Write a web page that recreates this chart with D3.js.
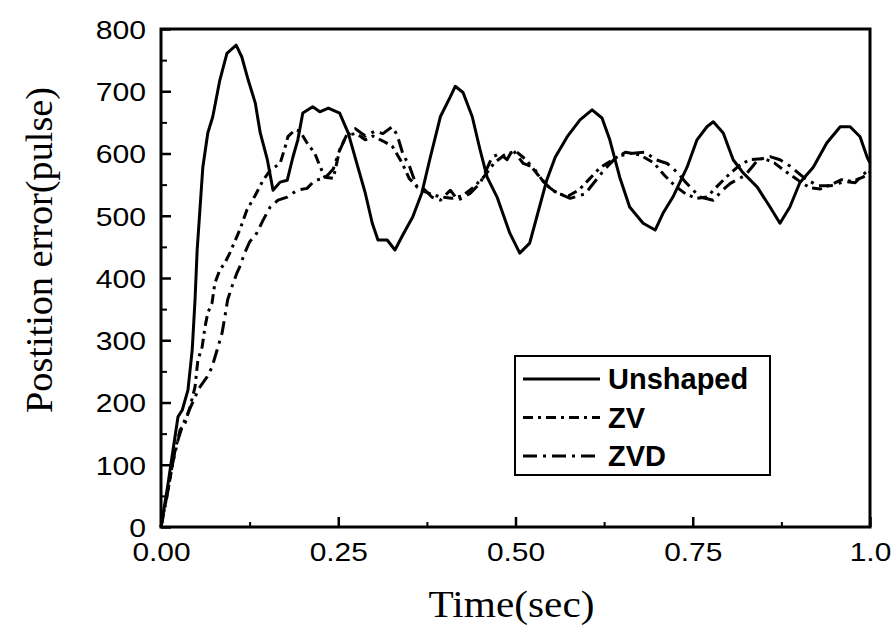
<!DOCTYPE html>
<html>
<head>
<meta charset="utf-8">
<script src="https://cdn.jsdelivr.net/npm/d3@7"></script>
<style>
  body { margin: 0; background: #fff; }
  .tick text { font-family: "Liberation Sans", Arial, sans-serif; font-size: 26px; fill: #000; }
</style>
</head>
<body>
<div id="chart"></div>
<script>
// Data: [time (sec), position error (pulse)]
var unshaped = [[0,0],[0.01,70],[0.017,124],[0.024,177],[0.03,188],[0.038,220],[0.044,284],[0.048,365],
  [0.051,445],[0.059,578],[0.066,633],[0.073,659],[0.083,718],[0.093,761],[0.106,774],[0.114,755],
  [0.123,718],[0.133,681],[0.14,633],[0.15,590],[0.158,541],[0.168,554],[0.178,557],[0.186,594],
  [0.193,622],[0.2,665],[0.214,675],[0.224,667],[0.236,673],[0.252,665],[0.264,633],[0.276,585],
  [0.288,537],[0.298,488],[0.306,461],[0.319,461],[0.33,445],[0.341,469],[0.355,498],[0.368,537],
  [0.379,590],[0.394,659],[0.408,691],[0.415,708],[0.426,698],[0.439,659],[0.45,606],[0.46,562],
  [0.474,530],[0.492,472],[0.506,440],[0.52,456],[0.53,498],[0.544,557],[0.556,594],[0.573,627],
  [0.591,654],[0.608,670],[0.622,657],[0.633,622],[0.647,562],[0.661,514],[0.68,488],[0.697,477],
  [0.708,504],[0.722,530],[0.742,578],[0.756,622],[0.77,643],[0.779,651],[0.793,633],[0.807,590],
  [0.821,569],[0.841,546],[0.859,514],[0.873,488],[0.887,514],[0.901,553],[0.92,578],[0.939,617],
  [0.958,643],[0.972,643],[0.986,627],[0.996,594],[1.0,585]];

var zv = [[0,0],[0.01,60],[0.02,124],[0.027,156],[0.034,167],[0.041,193],[0.048,225],[0.052,268],
  [0.058,289],[0.062,321],[0.066,344],[0.072,360],[0.076,392],[0.083,413],[0.09,424],[0.097,440],
  [0.111,477],[0.121,509],[0.133,533],[0.144,557],[0.154,573],[0.168,584],[0.175,610],[0.179,627],
  [0.189,638],[0.196,636],[0.206,617],[0.217,600],[0.224,580],[0.231,562],[0.243,560],[0.252,606],
  [0.262,630],[0.276,632],[0.288,622],[0.299,628],[0.313,620],[0.326,612],[0.34,585],[0.35,560],
  [0.365,542],[0.38,535],[0.395,530],[0.41,528],[0.425,532],[0.44,545],[0.455,562],[0.47,585],
  [0.485,598],[0.5,604],[0.515,590],[0.53,568],[0.545,548],[0.56,535],[0.575,532],[0.59,542],
  [0.605,560],[0.62,578],[0.64,592],[0.655,602],[0.675,598],[0.695,585],[0.71,565],[0.725,548],
  [0.74,535],[0.755,528],[0.77,530],[0.785,548],[0.8,565],[0.815,580],[0.83,590],[0.85,592],
  [0.865,585],[0.88,572],[0.9,556],[0.915,545],[0.93,543],[0.945,550],[0.96,558],[0.975,555],
  [0.99,562],[1.0,570]];

var zvd = [[0,0],[0.007,40],[0.016,100],[0.024,140],[0.031,165],[0.038,183],[0.048,209],[0.055,225],
  [0.065,241],[0.072,257],[0.079,284],[0.086,311],[0.09,337],[0.094,365],[0.1,386],[0.107,408],
  [0.111,418],[0.118,440],[0.125,458],[0.135,472],[0.144,493],[0.154,514],[0.165,525],[0.178,530],
  [0.192,541],[0.206,544],[0.217,557],[0.231,560],[0.243,575],[0.25,600],[0.26,625],[0.274,640],
  [0.288,628],[0.302,636],[0.313,632],[0.326,643],[0.333,630],[0.341,600],[0.351,578],[0.361,546],
  [0.37,544],[0.382,530],[0.394,525],[0.408,541],[0.419,525],[0.436,536],[0.45,552],[0.457,569],
  [0.467,594],[0.478,600],[0.488,590],[0.496,606],[0.511,584],[0.525,578],[0.539,555],[0.553,540],
  [0.577,528],[0.598,535],[0.612,555],[0.626,575],[0.643,595],[0.661,600],[0.683,602],[0.698,590],
  [0.714,584],[0.728,570],[0.739,555],[0.76,530],[0.779,525],[0.791,540],[0.803,552],[0.824,565],
  [0.842,590],[0.859,595],[0.873,590],[0.887,580],[0.908,560],[0.927,548],[0.944,548],[0.965,555],
  [0.979,553],[0.989,565],[1.0,575]];

var xTicks = [0, 0.25, 0.5, 0.75, 1.0];
var xTickLabels = ["0.00", "0.25", "0.50", "0.75", "1.0"];
var xMinor = [0.125, 0.375, 0.625, 0.875];
var yTicks = [0, 100, 200, 300, 400, 500, 600, 700, 800];
var yMinor = [50, 150, 250, 350, 450, 550, 650, 750];

var seriesNames = ["Unshaped", "ZV", "ZVD"];
var seriesData = [unshaped, zv, zvd];
var seriesDash = [null, "10,5,3,5", "14,6,3,6"];

// Set the dimensions and margins of the graph
var margin = {top: 29, right: 25, bottom: 109, left: 161},
    width = 895 - margin.left - margin.right,
    height = 636 - margin.top - margin.bottom;

var svg = d3.select("#chart")
  .append("svg")
    .attr("width", width + margin.left + margin.right)
    .attr("height", height + margin.top + margin.bottom)
  .append("g")
    .attr("transform", "translate(" + margin.left + "," + margin.top + ")");

var x = d3.scaleLinear().domain([0, 1]).range([0, width]);
var y = d3.scaleLinear().domain([0, 800]).range([height, 0]);

// stretch tick text a bit wider, like the scanned original
function widen(sel, k) {
  sel.each(function() {
    var w = this.getComputedTextLength();
    d3.select(this).attr("textLength", w * k).attr("lengthAdjust", "spacingAndGlyphs");
  });
}

// X axis, ticks pointing inwards
var xAxis = svg.append("g")
    .attr("transform", "translate(0," + height + ")")
    .call(d3.axisBottom(x).tickValues(xTicks).tickSize(-10).tickPadding(16)
      .tickFormat(function(d, i) { return xTickLabels[i]; }));
xAxis.selectAll("line").attr("stroke", "#000").attr("stroke-width", 2.5);
xAxis.select(".domain").remove();
xAxis.selectAll("text").call(widen, 1.15);

var xMinorAxis = svg.append("g")
    .attr("transform", "translate(0," + height + ")")
    .call(d3.axisBottom(x).tickValues(xMinor).tickSize(-5).tickFormat(""));
xMinorAxis.selectAll("line").attr("stroke", "#000").attr("stroke-width", 2);
xMinorAxis.select(".domain").remove();

// Y axis
var yAxis = svg.append("g")
    .call(d3.axisLeft(y).tickValues(yTicks).tickSize(-10).tickPadding(15));
yAxis.selectAll("line").attr("stroke", "#000").attr("stroke-width", 2.5);
yAxis.select(".domain").remove();
yAxis.selectAll("text").attr("dy", "0.36em").call(widen, 1.16);

var yMinorAxis = svg.append("g")
    .call(d3.axisLeft(y).tickValues(yMinor).tickSize(-6).tickFormat(""));
yMinorAxis.selectAll("line").attr("stroke", "#000").attr("stroke-width", 2);
yMinorAxis.select(".domain").remove();

// Frame
svg.append("rect")
    .attr("width", width)
    .attr("height", height)
    .attr("fill", "none")
    .attr("stroke", "#000")
    .attr("stroke-width", 3);

// Lines
var line = d3.line()
    .x(function(d) { return x(d[0]); })
    .y(function(d) { return y(d[1]); });

seriesData.forEach(function(data, i) {
  svg.append("path")
    .datum(data)
    .attr("fill", "none")
    .attr("stroke", "#000")
    .attr("stroke-width", 3)
    .attr("stroke-linejoin", "round")
    .attr("stroke-dasharray", seriesDash[i])
    .attr("d", line);
});

// Axis titles
svg.append("text")
    .attr("x", width / 2 - 4)
    .attr("y", height + 90)
    .attr("text-anchor", "middle")
    .style("font-family", "'Liberation Serif', 'Times New Roman', serif")
    .style("font-size", "38px")
    .attr("textLength", 166)
    .attr("lengthAdjust", "spacingAndGlyphs")
    .text("Time(sec)");

svg.append("text")
    .attr("transform", "rotate(-90)")
    .attr("x", -(250 - margin.top))
    .attr("y", 52 - margin.left)
    .attr("text-anchor", "middle")
    .style("font-family", "'Liberation Serif', 'Times New Roman', serif")
    .style("font-size", "38px")
    .attr("textLength", 326)
    .attr("lengthAdjust", "spacingAndGlyphs")
    .text("Postition error(pulse)");

// Legend
var legend = svg.append("g")
    .attr("transform", "translate(" + (515 - margin.left) + "," + (356 - margin.top) + ")");

legend.append("rect")
    .attr("width", 255)
    .attr("height", 119)
    .attr("fill", "#fff")
    .attr("stroke", "#000")
    .attr("stroke-width", 2);

seriesNames.forEach(function(name, i) {
  var ly = 23 + i * 38.5;
  legend.append("line")
    .attr("x1", 8).attr("x2", 85)
    .attr("y1", ly).attr("y2", ly)
    .attr("stroke", "#000")
    .attr("stroke-width", 3)
    .attr("stroke-dasharray", seriesDash[i]);
  legend.append("text")
    .attr("x", 93)
    .attr("y", ly)
    .attr("dy", "0.36em")
    .style("font-family", "'Liberation Sans', Arial, sans-serif")
    .style("font-weight", "bold")
    .style("font-size", "29px")
    .text(name);
});
</script>
</body>
</html>
